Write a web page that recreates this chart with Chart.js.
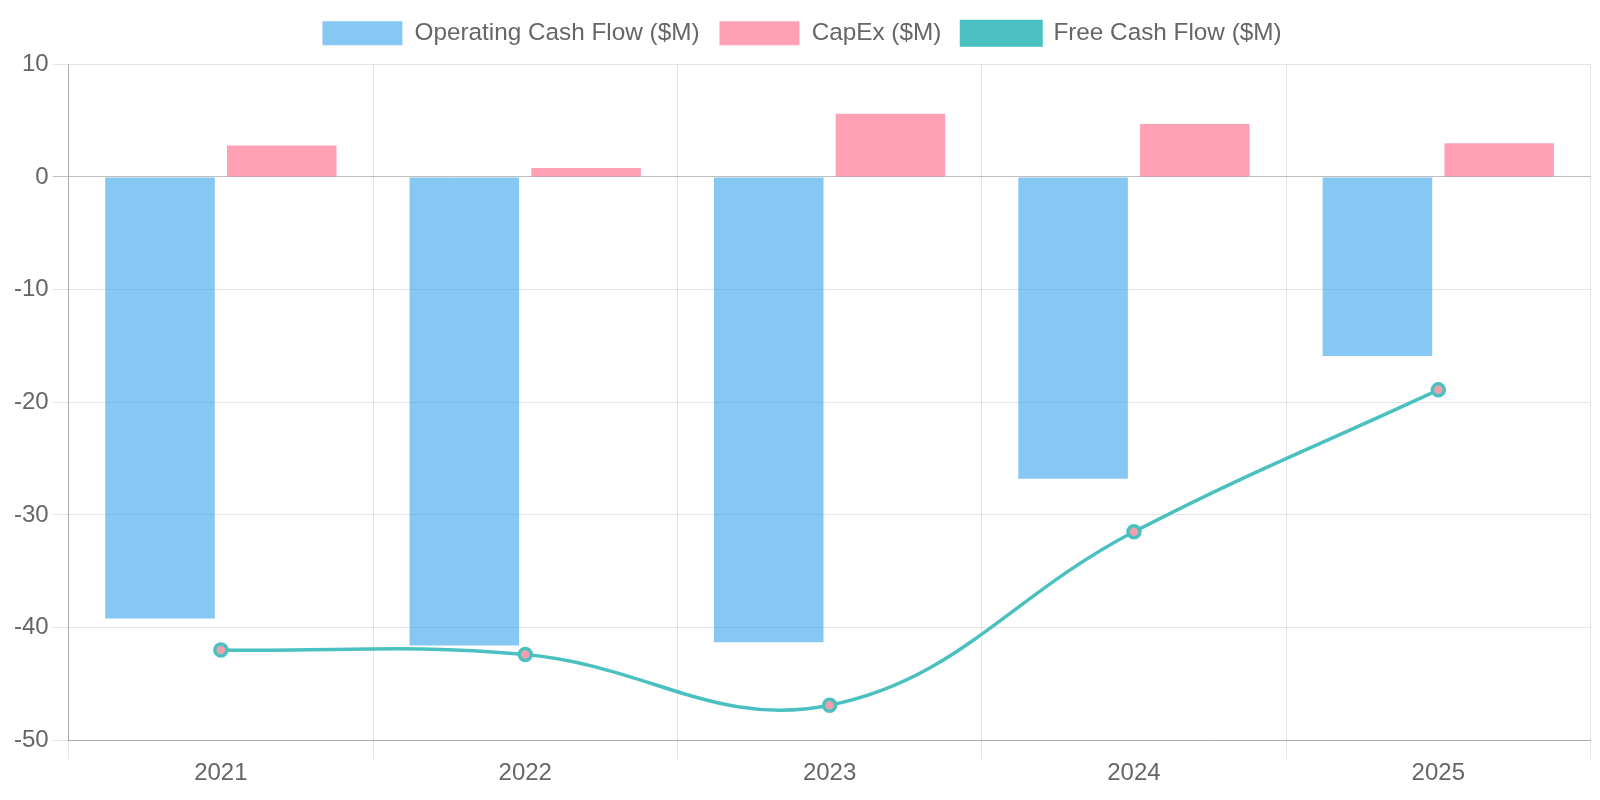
<!DOCTYPE html>
<html>
<head>
<meta charset="utf-8">
<script src="https://cdn.jsdelivr.net/npm/chart.js@4/dist/chart.umd.min.js"></script>
<style>
html,body{margin:0;padding:0;background:#fff;}
#wrap{width:1600px;height:800px;}
</style>
</head>
<body>
<div id="wrap"><canvas id="c" width="1600" height="800"></canvas></div>
<script>
const years = ['2021','2022','2023','2024','2025'];
const operatingCashFlow = [-39.2, -41.6, -41.3, -26.8, -15.9];
const capEx = [2.8, 0.8, 5.6, 4.7, 3.0];
const freeCashFlow = [-42.0, -42.4, -46.9, -31.5, -18.9];
const yTicks = [10, 0, -10, -20, -30, -40, -50];

Chart.defaults.font.family = "'Liberation Sans', Arial, sans-serif";
Chart.defaults.color = '#666';

const legendSpacer = {
  id: 'legendSpacer',
  beforeInit(chart) {
    const orig = chart.legend.fit;
    chart.legend.fit = function() {
      orig.bind(chart.legend)();
      this.height += 9;
    };
  }
};

new Chart(document.getElementById('c'), {
  data: {
    labels: years,
    datasets: [
      {
        type: 'bar',
        label: 'Operating Cash Flow ($M)',
        data: operatingCashFlow,
        backgroundColor: 'rgba(54,162,235,0.6)',
        borderWidth: 0,
        order: 2
      },
      {
        type: 'bar',
        label: 'CapEx ($M)',
        data: capEx,
        backgroundColor: 'rgba(255,99,132,0.6)',
        borderWidth: 0,
        order: 2
      },
      {
        type: 'line',
        label: 'Free Cash Flow ($M)',
        data: freeCashFlow,
        borderColor: 'rgb(75,192,192)',
        backgroundColor: 'rgb(75,192,192)',
        pointBackgroundColor: 'rgba(240,160,170,1)',
        pointBorderColor: 'rgb(75,192,192)',
        pointBorderWidth: 3.5,
        pointRadius: 6,
        borderWidth: 3.5,
        tension: 0.4,
        fill: false,
        order: 1
      }
    ]
  },
  plugins: [legendSpacer],
  options: {
    responsive: false,
    animation: false,
    layout: { padding: { left: 10, right: 6, top: 1, bottom: 12 } },
    plugins: {
      legend: {
        position: 'top',
        labels: {
          font: { size: 24.3 },
          boxWidth: 80,
          boxHeight: 24,
          padding: 20,
          sort: (a, b) => a.datasetIndex - b.datasetIndex,
          generateLabels: function(chart) {
            const items = Chart.defaults.plugins.legend.labels.generateLabels(chart);
            items.forEach((it) => {
              if (it.datasetIndex === 2) { it.fillStyle = 'rgb(75,192,192)'; it.strokeStyle = 'rgb(75,192,192)'; it.lineWidth = 3; }
              else { it.lineWidth = 0; }
            });
            return items;
          }
        }
      },
      tooltip: { enabled: false }
    },
    scales: {
      x: {
        offset: true,
        grid: { offset: true, color: 'rgba(0,0,0,0.1)', tickLength: 19 },
        border: { color: 'rgba(0,0,0,0.25)' },
        ticks: { font: { size: 24 }, padding: 0 }
      },
      y: {
        min: -50,
        max: 10,
        afterBuildTicks: (axis) => { axis.ticks = yTicks.map(v => ({ value: v })); },
        grid: {
          color: (ctx) => (ctx.tick && ctx.tick.value === 0) ? 'rgba(0,0,0,0.25)' : 'rgba(0,0,0,0.1)',
          tickLength: 16
        },
        border: { color: 'rgba(0,0,0,0.25)' },
        ticks: { font: { size: 24 }, padding: 4 }
      }
    }
  }
});
</script>
</body>
</html>
